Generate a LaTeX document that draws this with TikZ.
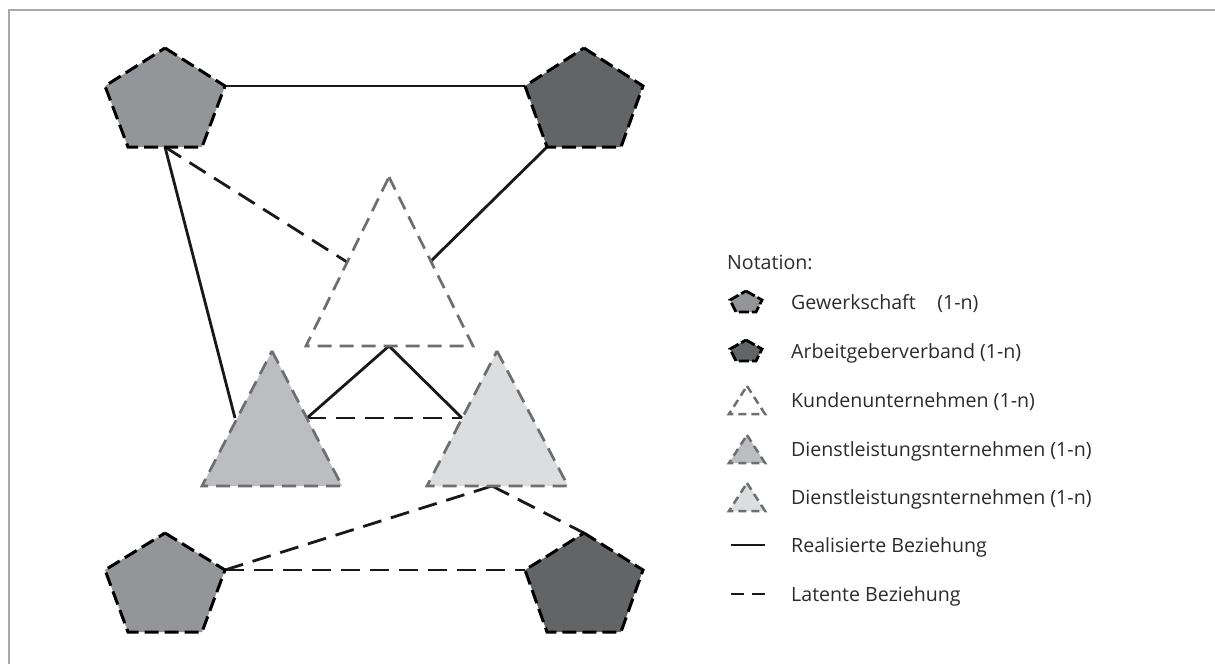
\documentclass[tikz,border=0pt]{standalone}
\usepackage{fontspec}
\setmainfont{Open Sans}
\definecolor{gwk}{HTML}{939598}
\definecolor{agv}{HTML}{636466}
\definecolor{dl1}{HTML}{BCBDC0}
\definecolor{dl2}{HTML}{DCDDDF}
\definecolor{triedge}{HTML}{6D6E70}
\definecolor{framegray}{HTML}{A7A9AC}
\definecolor{txt}{HTML}{2B2B2B}
\begin{document}
\begin{tikzpicture}[x=1pt,y=-1pt,
  pent/.style={draw=black,line width=3pt,dash pattern=on 14pt off 6pt,line join=miter},
  tri/.style={draw=triedge,line width=2.7pt,dash pattern=on 14pt off 8pt},
  real/.style={draw=black!90,line width=2.8pt},
  lat/.style={draw=black!90,line width=2.8pt,dash pattern=on 19pt off 10pt},
  ipent/.style={draw=black,line width=2.8pt,dash pattern=on 10pt off 3pt},
  itri/.style={draw=triedge,line width=2.5pt,dash pattern=on 8pt off 5pt},
  legtext/.style={anchor=base west,inner sep=0pt,text=txt,font=\fontsize{19.6}{24}\selectfont}]
\useasboundingbox (0,0) rectangle (1215,664);
\draw[framegray,line width=1.8pt] (9,664) -- (9,10) -- (1215,10);

% connection points
\coordinate (tlR) at (225,86);
\coordinate (tlB) at (165,147);
\coordinate (trL) at (525,86);
\coordinate (trBL) at (547,147);
\coordinate (blR) at (225,570);
\coordinate (brL) at (525,570);
\coordinate (brT) at (584,533);
\coordinate (kL) at (347,262);
\coordinate (kR) at (431,261);
\coordinate (kB) at (389,346);
\coordinate (d1L) at (235,418);
\coordinate (d1R) at (307,418);
\coordinate (d2L) at (462,418);
\coordinate (d2B) at (492,486);

% connectors
\draw[real] (tlR) -- (trL);
\draw[real] (trBL) -- (kR);
\draw[lat] (tlB) -- (kL);
\draw[real] (tlB) -- (d1L);
\draw[real] (kB) -- (d1R);
\draw[real] (kB) -- (d2L);
\draw[lat] (d1R) -- (d2L);
\draw[lat] (d2B) -- (blR);
\draw[lat] (d2B) -- (brT);
\draw[lat] (blR) -- (brL);

% pentagons
\filldraw[pent,fill=gwk] (165,48) -- (225,86) -- (202,147) -- (128,147) -- (105,86) -- cycle;
\filldraw[pent,fill=agv] (584,48) -- (643,86) -- (621,147) -- (547,147) -- (525,86) -- cycle;
\filldraw[pent,fill=gwk] (165,533) -- (225,570) -- (202,632) -- (128,632) -- (105,570) -- cycle;
\filldraw[pent,fill=agv] (584,533) -- (643,570) -- (621,632) -- (547,632) -- (525,570) -- cycle;

% triangles
\filldraw[tri,fill=white] (389,177) -- (473,346) -- (306,346) -- cycle;
\filldraw[tri,fill=dl1] (272,351) -- (342,486) -- (202,486) -- cycle;
\filldraw[tri,fill=dl2] (497,351) -- (568,486) -- (427,486) -- cycle;

% legend
\node[legtext] (notation) at (727,269) {Notation:};
\begin{scope}[shift={(746,302)}]
\filldraw[ipent,fill=gwk] (0,-11) -- (16,-2) -- (10,10) -- (-10,10) -- (-16,-2) -- cycle;
\end{scope}
\node[legtext] (l1) at (791,309.5) {Gewerkschaft\hspace{1.1em}(1-n)};
\begin{scope}[shift={(746,351)}]
\filldraw[ipent,fill=agv] (0,-11) -- (16,-2) -- (10,10) -- (-10,10) -- (-16,-2) -- cycle;
\end{scope}
\node[legtext] (l2) at (791,358.5) {Arbeitgeberverband (1-n)};
\begin{scope}[shift={(747,400)}]
\draw[itri] (0,-14) -- (18,14) -- (-18,14) -- cycle;
\end{scope}
\node[legtext] (l3) at (791,407.5) {Kundenunternehmen (1-n)};
\begin{scope}[shift={(747,449)}]
\filldraw[itri,fill=dl1] (0,-14) -- (18,14) -- (-18,14) -- cycle;
\end{scope}
\node[legtext] (l4) at (791,456.5) {Dienstleistungsnternehmen (1-n)};
\begin{scope}[shift={(747,497)}]
\filldraw[itri,fill=dl2] (0,-14) -- (18,14) -- (-18,14) -- cycle;
\end{scope}
\node[legtext] (l5) at (791,504.5) {Dienstleistungsnternehmen (1-n)};
\coordinate (s1) at (731,545);
\coordinate (s2) at (765,545);
\draw[real] (s1) -- (s2);
\node[legtext] (l6) at (791,552.5) {Realisierte Beziehung};
\coordinate (t1) at (731,594);
\coordinate (t2) at (765,594);
\draw[real,dash pattern=on 13pt off 8pt] (t1) -- (t2);
\node[legtext] (l7) at (791,601.5) {Latente Beziehung};
\end{tikzpicture}
\end{document}
